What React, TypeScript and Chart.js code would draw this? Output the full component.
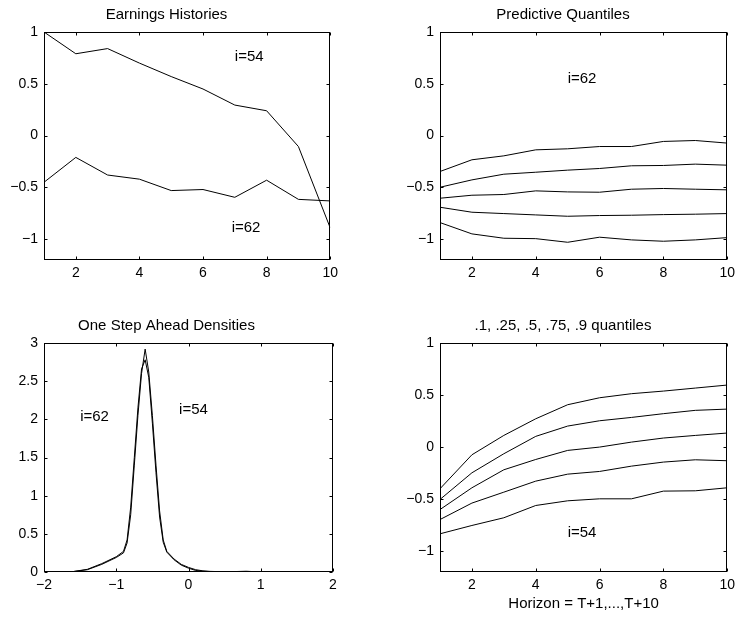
import React, { useEffect, useRef } from "react";
import { Chart, registerables } from "chart.js";

Chart.register(...registerables);

const FONT = '"Liberation Sans", Arial, Helvetica, sans-serif';

// ---------- data ----------
const horizon = [1, 2, 3, 4, 5, 6, 7, 8, 9, 10];

const earnings54 = [1.0, 0.79, 0.84, 0.7, 0.57, 0.45, 0.295, 0.24, -0.105, -0.89];
const earnings62 = [-0.45, -0.21, -0.38, -0.42, -0.53, -0.52, -0.595, -0.43, -0.615, -0.63];

const q62_90 = [-0.346, -0.233, -0.195, -0.137, -0.127, -0.105, -0.105, -0.056, -0.047, -0.072];
const q62_75 = [-0.498, -0.427, -0.372, -0.353, -0.333, -0.317, -0.291, -0.288, -0.275, -0.285];
const q62_50 = [-0.604, -0.575, -0.568, -0.533, -0.543, -0.546, -0.517, -0.51, -0.517, -0.523];
const q62_25 = [-0.691, -0.739, -0.752, -0.765, -0.778, -0.771, -0.768, -0.762, -0.758, -0.752];
const q62_10 = [-0.839, -0.948, -0.99, -0.994, -1.029, -0.98, -1.006, -1.019, -1.006, -0.984];

const q54_90 = [-0.4, -0.074, 0.112, 0.272, 0.407, 0.474, 0.513, 0.538, 0.567, 0.596];
const q54_75 = [-0.503, -0.247, -0.064, 0.103, 0.202, 0.253, 0.285, 0.321, 0.353, 0.365];
const q54_50 = [-0.6, -0.391, -0.218, -0.119, -0.032, 0.0, 0.048, 0.087, 0.112, 0.135];
const q54_25 = [-0.696, -0.538, -0.433, -0.327, -0.26, -0.234, -0.183, -0.144, -0.122, -0.131];
const q54_10 = [-0.833, -0.753, -0.679, -0.561, -0.516, -0.497, -0.497, -0.423, -0.42, -0.391];

const densX = [-2, -1.8, -1.6, -1.4, -1.2, -1.0, -0.9, -0.85, -0.8, -0.75, -0.7, -0.65, -0.6, -0.55, -0.5, -0.45, -0.4, -0.35, -0.3, -0.2, -0.1, 0, 0.1, 0.2, 0.3, 0.5, 0.8, 1.0, 1.5, 2.0];
const dens54 = [0.0, 0.0, 0.005, 0.03, 0.1, 0.19, 0.25, 0.38, 0.75, 1.4, 2.05, 2.6, 2.92, 2.62, 2.05, 1.4, 0.8, 0.42, 0.27, 0.17, 0.1, 0.06, 0.03, 0.015, 0.008, 0.003, 0.005, 0.0, 0.0, 0.0];
const dens62 = [0.0, 0.0, 0.005, 0.035, 0.11, 0.2, 0.27, 0.42, 0.85, 1.5, 2.15, 2.66, 2.78, 2.55, 1.95, 1.3, 0.72, 0.39, 0.26, 0.16, 0.09, 0.05, 0.02, 0.01, 0.005, 0.002, 0.01, 0.0, 0.0, 0.0];

const ticksHorizonX = [2, 4, 6, 8, 10];
const ticksQuantY = [-1, -0.5, 0, 0.5, 1];
const ticksDensX = [-2, -1, 0, 1, 2];
const ticksDensY = [0, 0.5, 1, 1.5, 2, 2.5, 3];

const notesEarnings = [
  { x: 7.0, y: 0.76, text: "i=54" },
  { x: 6.9, y: -0.89, text: "i=62" },
];
const notesPredictive = [{ x: 5.0, y: 0.55, text: "i=62" }];
const notesDensity = [
  { x: -1.5, y: 2.03, text: "i=62" },
  { x: -0.13, y: 2.13, text: "i=54" },
];
const notesQuantiles = [{ x: 5.0, y: -0.82, text: "i=54" }];

// ---------- layout constants ----------
const Y_AXIS_W = 44;
const TITLE_H = 32;
const X_AXIS_H = 42;
const PAD_R = 10;
const PAD_B = 2;

const fmt = (v: number | string) => String(v).replace("-", "\u2212");

const boxPlugin = {
  id: "matlabBox",
  afterDatasetsDraw(chart: any, _args: any, opts: any) {
    const { ctx, chartArea: a, scales } = chart;
    const xs = scales.x;
    const ys = scales.y;
    ctx.save();
    ctx.strokeStyle = "#000";
    ctx.lineWidth = 1;
    const L = Math.round(a.left) + 0.5;
    const R = Math.round(a.right) - 0.5;
    const T = Math.round(a.top) + 0.5;
    const B = Math.round(a.bottom) - 0.5;
    ctx.strokeRect(L, T, R - L, B - T);
    const tl = 3;
    ctx.beginPath();
    for (const t of xs.ticks) {
      const px = Math.round(xs.getPixelForValue(t.value)) + 0.5;
      ctx.moveTo(px, B);
      ctx.lineTo(px, B - tl);
      ctx.moveTo(px, T);
      ctx.lineTo(px, T + tl);
    }
    for (const t of ys.ticks) {
      const py = Math.round(ys.getPixelForValue(t.value)) + 0.5;
      ctx.moveTo(L, py);
      ctx.lineTo(L + tl, py);
      ctx.moveTo(R, py);
      ctx.lineTo(R - tl, py);
    }
    ctx.stroke();
    const notes = (opts && opts.notes) || [];
    ctx.fillStyle = "#000";
    ctx.font = `15px ${FONT}`;
    ctx.textAlign = "left";
    ctx.textBaseline = "middle";
    for (const n of notes) {
      ctx.fillText(n.text, xs.getPixelForValue(n.x), ys.getPixelForValue(n.y));
    }
    ctx.restore();
  },
};

type Series = { xs: number[]; ys: number[] };
type Box = { left: number; top: number; right: number; bottom: number };
type PanelProps = {
  box: Box;
  title: string;
  xlabel?: string;
  series: Series[];
  xMin: number;
  xMax: number;
  yMin: number;
  yMax: number;
  xTicks: number[];
  yTicks: number[];
  notes: { x: number; y: number; text: string }[];
};

function Panel(p: PanelProps) {
  const ref = useRef<HTMLCanvasElement>(null);
  const cLeft = p.box.left - Y_AXIS_W;
  const cTop = p.box.top - TITLE_H;
  const cW = p.box.right - p.box.left + Y_AXIS_W + PAD_R;
  const cH = p.box.bottom - p.box.top + TITLE_H + X_AXIS_H + PAD_B;

  useEffect(() => {
    Chart.defaults.font.family = FONT;
    Chart.defaults.color = "#000";
    const chart = new Chart(ref.current as HTMLCanvasElement, {
      type: "line",
      data: {
        datasets: p.series.map((s) => ({
          data: s.xs.map((x, i) => ({ x, y: s.ys[i] })),
          borderColor: "#000",
          borderWidth: 1,
          pointRadius: 0,
          tension: 0,
          fill: false,
        })),
      },
      options: {
        responsive: false,
        animation: false,
        devicePixelRatio: 1,
        layout: { padding: { left: 0, top: 0, right: PAD_R, bottom: PAD_B } },
        plugins: {
          legend: { display: false },
          tooltip: { enabled: false },
          title: {
            display: true,
            text: p.title,
            color: "#000",
            font: { size: 15, weight: "normal", family: FONT, lineHeight: 1.2 },
            padding: { top: 6, bottom: 8 },
          },
          matlabBox: { notes: p.notes },
        } as any,
        scales: {
          x: {
            type: "linear",
            min: p.xMin,
            max: p.xMax,
            grid: { display: false, drawTicks: false },
            border: { display: false },
            ticks: {
              autoSkip: false,
              maxRotation: 0,
              padding: 5,
              color: "#000",
              font: { size: 14, family: FONT },
              callback: (v: any) => fmt(v),
            },
            afterBuildTicks: (s: any) => {
              s.ticks = p.xTicks.map((v) => ({ value: v }));
            },
            afterFit: (s: any) => {
              s.height = X_AXIS_H;
            },
            title: p.xlabel
              ? {
                  display: true,
                  text: p.xlabel,
                  color: "#000",
                  font: { size: 15, family: FONT, lineHeight: 1.2 },
                  padding: { top: 0, bottom: 1 },
                }
              : { display: false },
          },
          y: {
            type: "linear",
            min: p.yMin,
            max: p.yMax,
            grid: { display: false, drawTicks: false },
            border: { display: false },
            ticks: {
              autoSkip: false,
              padding: 6,
              color: "#000",
              font: { size: 14, family: FONT },
              callback: (v: any) => fmt(v),
            },
            afterBuildTicks: (s: any) => {
              s.ticks = p.yTicks.map((v) => ({ value: v }));
            },
            afterFit: (s: any) => {
              s.width = Y_AXIS_W;
            },
          },
        },
      } as any,
      plugins: [boxPlugin],
    });
    return () => chart.destroy();
  }, []);

  return (
    <canvas
      ref={ref}
      width={cW}
      height={cH}
      style={{ position: "absolute", left: cLeft, top: cTop, width: cW, height: cH }}
    />
  );
}

export default function App() {
  return (
    <div
      style={{
        position: "absolute",
        left: 0,
        top: 0,
        width: 742,
        height: 619,
        overflow: "hidden",
        background: "#fff",
      }}
    >
      <Panel
        box={{ left: 44, top: 32, right: 333, bottom: 260 }}
        title="Earnings Histories"
        series={[
          { xs: horizon, ys: earnings54 },
          { xs: horizon, ys: earnings62 },
        ]}
        xMin={1}
        xMax={10}
        yMin={-1.2}
        yMax={1}
        xTicks={ticksHorizonX}
        yTicks={ticksQuantY}
        notes={notesEarnings}
      />
      <Panel
        box={{ left: 440, top: 32, right: 730, bottom: 260 }}
        title="Predictive Quantiles"
        series={[q62_90, q62_75, q62_50, q62_25, q62_10].map((ys) => ({ xs: horizon, ys }))}
        xMin={1}
        xMax={10}
        yMin={-1.2}
        yMax={1}
        xTicks={ticksHorizonX}
        yTicks={ticksQuantY}
        notes={notesPredictive}
      />
      <Panel
        box={{ left: 44, top: 343, right: 333, bottom: 572 }}
        title="One Step Ahead Densities"
        series={[
          { xs: densX, ys: dens54 },
          { xs: densX, ys: dens62 },
        ]}
        xMin={-2}
        xMax={2}
        yMin={0}
        yMax={3}
        xTicks={ticksDensX}
        yTicks={ticksDensY}
        notes={notesDensity}
      />
      <Panel
        box={{ left: 440, top: 343, right: 730, bottom: 572 }}
        title=".1, .25, .5, .75, .9 quantiles"
        xlabel="Horizon = T+1,...,T+10"
        series={[q54_90, q54_75, q54_50, q54_25, q54_10].map((ys) => ({ xs: horizon, ys }))}
        xMin={1}
        xMax={10}
        yMin={-1.2}
        yMax={1}
        xTicks={ticksHorizonX}
        yTicks={ticksQuantY}
        notes={notesQuantiles}
      />
    </div>
  );
}
